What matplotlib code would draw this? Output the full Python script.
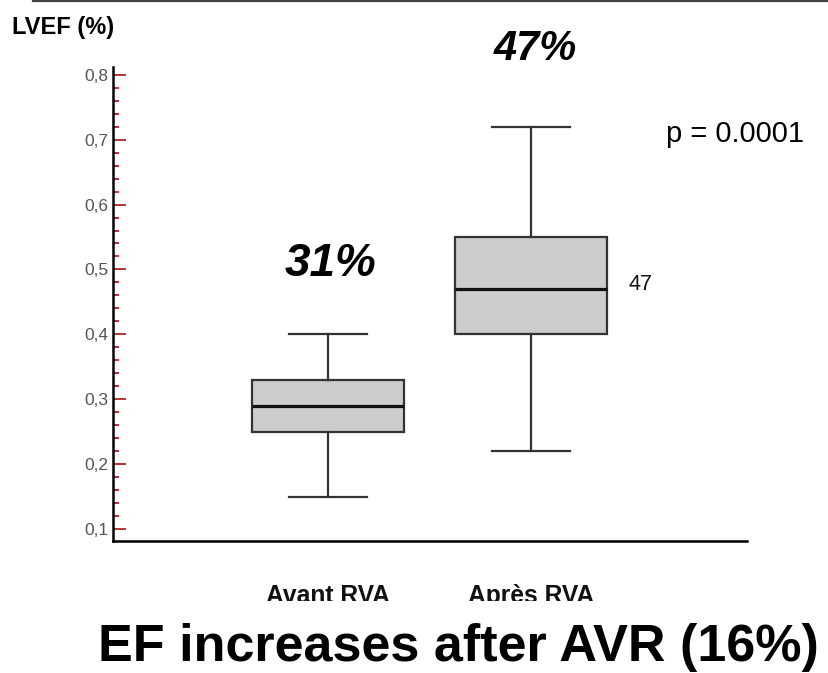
import numpy as np
import matplotlib
matplotlib.use('Agg')
import matplotlib.pyplot as plt
from matplotlib.patches import Rectangle
from matplotlib.lines import Line2D

plt.rcParams['font.family'] = ['Liberation Sans', 'DejaVu Sans']

# box statistics (LVEF, fraction)
groups = ['Avant RVA', 'Après RVA']
whislo = [0.15, 0.22]
q1 = [0.25, 0.40]
med = [0.29, 0.47]
q3 = [0.33, 0.55]
whishi = [0.40, 0.72]
mean_labels = ['31%', '47%']
yticks = [0.1, 0.2, 0.3, 0.4, 0.5, 0.6, 0.7, 0.8]
ytick_labels = ['0,1', '0,2', '0,3', '0,4', '0,5', '0,6', '0,7', '0,8']

W, H = 829, 673
fig = plt.figure(figsize=(W / 100, H / 100), dpi=100)
ax = fig.add_axes([113 / W, 1 - 541 / H, (747 - 113) / W, (541 - 67) / H])

stats = []
for i in range(len(groups)):
    stats.append({'label': groups[i], 'whislo': whislo[i], 'q1': q1[i],
                  'med': med[i], 'q3': q3[i], 'whishi': whishi[i], 'fliers': []})

ax.bxp(stats, positions=[1, 2], widths=0.75, patch_artist=True,
       showfliers=False,
       boxprops=dict(facecolor='#cccccc', edgecolor='#333333', linewidth=1.6),
       medianprops=dict(color='#111111', linewidth=2.3),
       whiskerprops=dict(color='#333333', linewidth=1.6),
       capprops=dict(color='#333333', linewidth=1.6),
       capwidths=0.38)

ax.set_xlim(-0.059, 3.064)
ax.set_ylim(0.0815, 0.812)

# axes look
for s in ['top', 'right']:
    ax.spines[s].set_visible(False)
ax.spines['left'].set_linewidth(1.8)
ax.spines['bottom'].set_linewidth(1.8)

red = '#b22222'
ax.set_yticks(yticks)
ax.set_yticklabels(ytick_labels)
ax.set_yticks(np.arange(0.1, 0.801, 0.02), minor=True)
ax.tick_params(axis='y', which='major', direction='in', length=9, width=1.3,
               color=red, labelsize=12.5, labelcolor='#555555', pad=3.5)
ax.tick_params(axis='y', which='minor', direction='in', length=4.5, width=1.3,
               color=red)
# bottom ticks are black
ax.yaxis.get_major_ticks()[0].tick1line.set_color('black')
minor = ax.yaxis.get_minor_ticks()
for t in minor[:3]:
    t.tick1line.set_color('black')

ax.tick_params(axis='x', length=0, pad=31, labelsize=17.7, labelcolor='#111111')
for lab in ax.get_xticklabels():
    lab.set_fontweight('bold')

# annotations
ax.text(1.01, 0.508, mean_labels[0], fontsize=33, fontweight='bold',
        fontstyle='italic', ha='center', va='center', clip_on=False)
ax.text(2.02, 0.84, mean_labels[1], fontsize=30, fontweight='bold',
        fontstyle='italic', ha='center', va='center', clip_on=False)
ax.text(2.478, 0.477, '47', fontsize=15.5, ha='left', va='center', color='#111111')
ax.text(3.005, 0.709, 'p = 0.0001', fontsize=21, ha='center', va='center',
        clip_on=False)

# header line and labels
fig.add_artist(Line2D([33 / W, 1], [1 - 1 / H, 1 - 1 / H], color='#444444', lw=1.6))
fig.text(12 / W, 1 - 34 / H, 'LVEF (%)', fontsize=17, fontweight='bold',
         ha='left', va='baseline')

# the category labels are cut off at the bottom in the original
fig.add_artist(Rectangle((0, 1 - 620 / H), 1, 19 / H, transform=fig.transFigure,
                         facecolor='white', edgecolor='none', zorder=5))

fig.text(458 / W, 1 - 661 / H, 'EF increases after AVR (16%)', fontsize=37.5,
         fontweight='bold', ha='center', va='baseline', zorder=10)

plt.savefig('out.png', dpi=100)
